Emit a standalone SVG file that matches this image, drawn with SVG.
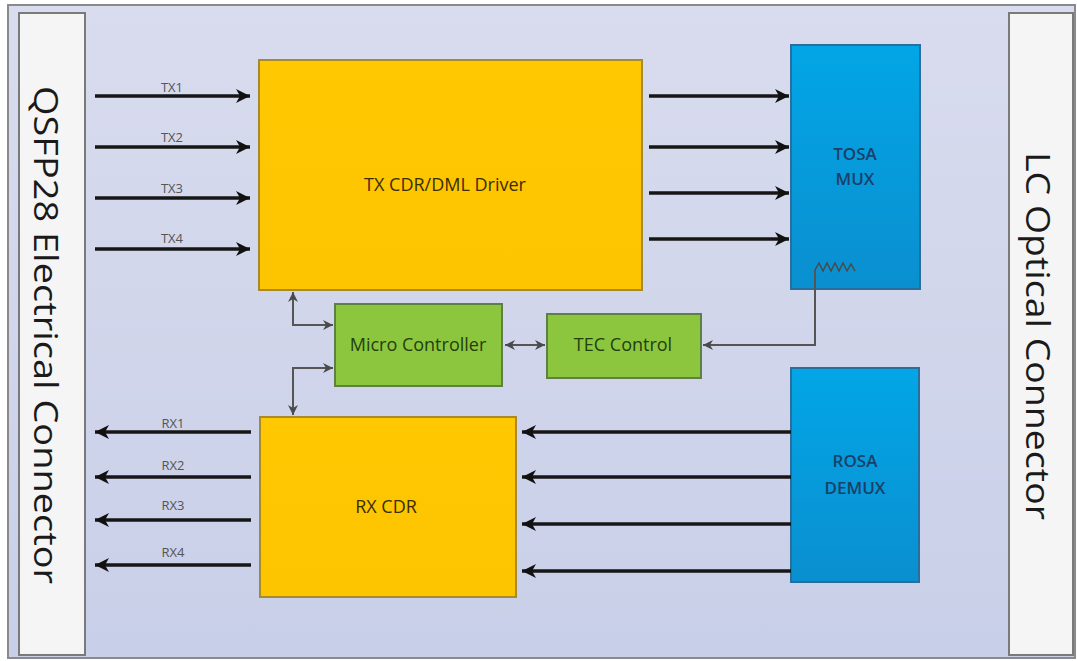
<svg xmlns="http://www.w3.org/2000/svg" width="1077" height="661" viewBox="0 0 1077 661">
<defs>
<linearGradient id="bg" x1="0" y1="0" x2="0" y2="1">
<stop offset="0" stop-color="#d9dcee"/>
<stop offset="1" stop-color="#c8cfe8"/>
</linearGradient>
<linearGradient id="blue" x1="0" y1="0" x2="0" y2="1">
<stop offset="0" stop-color="#02a6e6"/>
<stop offset="1" stop-color="#0a8fd0"/>
</linearGradient>
<linearGradient id="yellow" x1="0" y1="0" x2="0" y2="1">
<stop offset="0" stop-color="#ffc800"/>
<stop offset="1" stop-color="#fdc400"/>
</linearGradient>
<marker id="big" markerUnits="userSpaceOnUse" markerWidth="16" markerHeight="14" refX="14" refY="7" orient="auto">
<path d="M0,0 L14,7 L0,14 L4,7 Z" fill="#111"/>
</marker>
<marker id="small" markerUnits="userSpaceOnUse" markerWidth="12" markerHeight="10" refX="10" refY="5" orient="auto-start-reverse">
<path d="M0,0 L10,5 L0,10 L3,5 Z" fill="#4a4a4a"/>
</marker>
</defs>
<style>
.sig{stroke:#161616;stroke-width:3.5;fill:none;marker-end:url(#big)}
.ctl{stroke:#555;stroke-width:2;fill:none}
.lbl{font-family:"Open Sans","Liberation Sans",sans-serif;font-size:13px;fill:#555;text-anchor:middle}
.conn{fill:#f5f5f5;stroke:#7a7a7a;stroke-width:2}
.ytxt{font-family:"Open Sans","Liberation Sans",sans-serif;font-size:18px;fill:#3a2e00;text-anchor:middle}
.btxt{font-family:"Open Sans","Liberation Sans",sans-serif;font-size:17px;font-weight:600;fill:#1b3f6a;text-anchor:middle}
.gtxt{font-family:"Open Sans","Liberation Sans",sans-serif;font-size:18px;fill:#22400e;text-anchor:middle}
.big{font-family:"Open Sans","Liberation Sans",sans-serif;font-size:32px;fill:#1a1a1a;text-anchor:middle}
</style>
<rect x="0" y="0" width="1077" height="661" fill="#ffffff"/>
<rect x="8" y="5" width="1067" height="653" fill="url(#bg)" stroke="#8a8a8a" stroke-width="2"/>

<g id="qsfp28-connector">
<rect class="conn" x="19" y="13" width="66" height="642"/>
<text class="big" transform="translate(34,335) rotate(90)" textLength="498" lengthAdjust="spacingAndGlyphs">QSFP28 Electrical Connector</text>
</g>
<g id="lc-connector">
<rect class="conn" x="1009" y="13" width="64" height="642"/>
<text class="big" transform="translate(1026,336) rotate(90)" textLength="368" lengthAdjust="spacingAndGlyphs">LC Optical Connector</text>
</g>

<g id="tx-cdr">
<rect x="259" y="60" width="383" height="230" fill="url(#yellow)" stroke="#a88a2a" stroke-width="2"/>
<text class="ytxt" x="445" y="191">TX CDR/DML Driver</text>
</g>
<g id="rx-cdr">
<rect x="260" y="417" width="256" height="180" fill="url(#yellow)" stroke="#a88a2a" stroke-width="2"/>
<text class="ytxt" x="386" y="513">RX CDR</text>
</g>
<g id="tosa-mux">
<rect x="791" y="45" width="129" height="244" fill="url(#blue)" stroke="#2a6e9e" stroke-width="2"/>
<text class="btxt" x="855" y="160">TOSA</text>
<text class="btxt" x="855" y="185">MUX</text>
<polyline points="815,270 819,263 823,271 827,263 831,271 835,263 839,271 843,263 847,271 851,264 855,271" fill="none" stroke="#4a4a4a" stroke-width="1.5"/>
</g>
<g id="rosa-demux">
<rect x="791" y="368" width="128" height="214" fill="url(#blue)" stroke="#2a6e9e" stroke-width="2"/>
<text class="btxt" x="855" y="467">ROSA</text>
<text class="btxt" x="855" y="494">DEMUX</text>
</g>
<g id="micro-controller">
<rect x="335" y="304" width="167" height="82" fill="#8cc63e" stroke="#5e7f45" stroke-width="2"/>
<text class="gtxt" x="418" y="351">Micro Controller</text>
</g>
<g id="tec-control">
<rect x="547" y="314" width="154" height="64" fill="#8cc63e" stroke="#5e7f45" stroke-width="2"/>
<text class="gtxt" x="623" y="351">TEC Control</text>
</g>

<g id="connectors">
<line class="sig" x1="95" y1="96" x2="250" y2="96"/>
<line class="sig" x1="95" y1="147" x2="250" y2="147"/>
<line class="sig" x1="95" y1="198" x2="250" y2="198"/>
<line class="sig" x1="95" y1="249" x2="250" y2="249"/>
<text class="lbl" x="172" y="92">TX1</text>
<text class="lbl" x="172" y="142">TX2</text>
<text class="lbl" x="172" y="193">TX3</text>
<text class="lbl" x="172" y="243">TX4</text>

<line class="sig" x1="649" y1="96" x2="789" y2="96"/>
<line class="sig" x1="649" y1="147" x2="789" y2="147"/>
<line class="sig" x1="649" y1="193" x2="789" y2="193"/>
<line class="sig" x1="649" y1="239" x2="789" y2="239"/>

<line class="sig" x1="251" y1="432" x2="95" y2="432"/>
<line class="sig" x1="251" y1="477" x2="95" y2="477"/>
<line class="sig" x1="251" y1="520" x2="95" y2="520"/>
<line class="sig" x1="251" y1="565" x2="95" y2="565"/>
<text class="lbl" x="173" y="428">RX1</text>
<text class="lbl" x="173" y="470">RX2</text>
<text class="lbl" x="173" y="510">RX3</text>
<text class="lbl" x="173" y="557">RX4</text>

<line class="sig" x1="791" y1="432" x2="522" y2="432"/>
<line class="sig" x1="791" y1="477" x2="522" y2="477"/>
<line class="sig" x1="791" y1="524" x2="522" y2="524"/>
<line class="sig" x1="791" y1="571" x2="522" y2="571"/>

<polyline class="ctl" points="293,292 293,325 333,325" marker-start="url(#small)" marker-end="url(#small)"/>
<polyline class="ctl" points="333,368 293,368 293,415" marker-start="url(#small)" marker-end="url(#small)"/>
<line class="ctl" x1="505" y1="345" x2="545" y2="345" marker-start="url(#small)" marker-end="url(#small)"/>
<polyline class="ctl" points="815,270 815,345 703,345" marker-end="url(#small)"/>
</g>
</svg>
